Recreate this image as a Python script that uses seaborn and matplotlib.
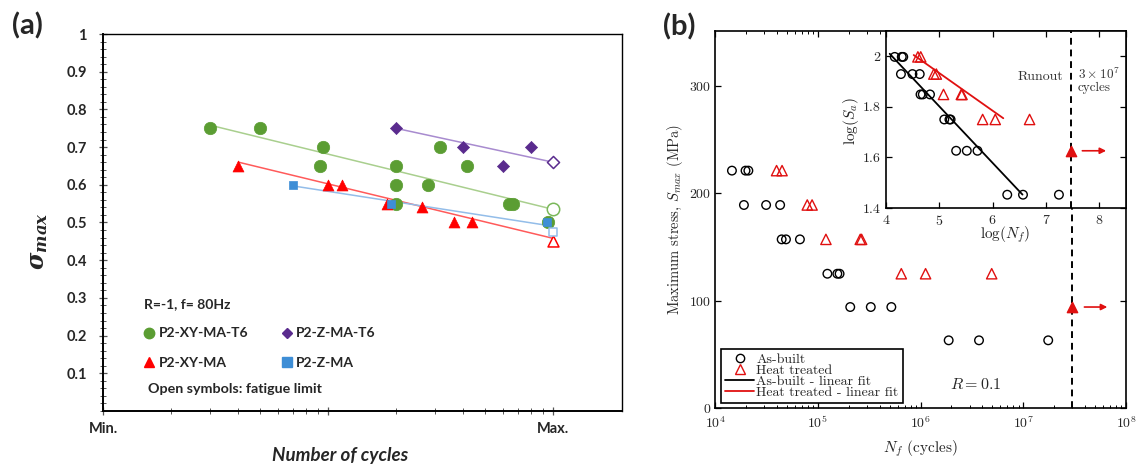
import numpy as np
import matplotlib
matplotlib.use("Agg")
import matplotlib.pyplot as plt
from matplotlib.lines import Line2D
from matplotlib.ticker import FixedLocator, FixedFormatter, NullFormatter, LogLocator
import seaborn as sns

# ---------------- (a) normalised S-N data ----------------
xy_t6_cycles = [3.0, 5.0, 9.5, 9.2, 20.0, 20.0, 27.7, 20.0, 31.5, 41.6, 63.5, 66.5, 95.0]
xy_t6_stress = [0.75, 0.75, 0.70, 0.65, 0.65, 0.60, 0.60, 0.55, 0.70, 0.65, 0.55, 0.55, 0.50]
z_t6_cycles = [20.0, 40.0, 60.0, 80.0]
z_t6_stress = [0.75, 0.70, 0.65, 0.70]
xy_ma_cycles = [4.0, 10.0, 11.5, 18.3, 26.2, 36.3, 43.6]
xy_ma_stress = [0.65, 0.60, 0.60, 0.55, 0.54, 0.50, 0.50]
z_ma_cycles = [7.0, 19.0, 94.0]
z_ma_stress = [0.60, 0.55, 0.50]

# fatigue limits (open symbols) at the maximum cycle count
limit_cycles = [100.0]
xy_t6_limit = [0.535]
z_t6_limit = [0.66]
xy_ma_limit = [0.452]
z_ma_limit = [0.475]

# trend lines (start, end)
xy_t6_trend_cycles = [3.0, 100.0]
xy_t6_trend_stress = [0.758, 0.535]
z_t6_trend_cycles = [20.0, 100.0]
z_t6_trend_stress = [0.75, 0.66]
xy_ma_trend_cycles = [4.0, 100.0]
xy_ma_trend_stress = [0.66, 0.458]
z_ma_trend_cycles = [7.0, 100.0]
z_ma_trend_stress = [0.597, 0.49]

# ---------------- (b) R = 0.1 S-N data ----------------
R_ratio = 0.1
asbuilt_cycles = [1.46e4, 1.98e4, 2.11e4, 1.91e4, 3.14e4, 4.3e4, 4.45e4, 4.9e4, 6.7e4,
                  1.24e5, 1.55e5, 1.63e5, 2.07e5, 3.28e5, 5.2e5, 1.88e6, 3.71e6, 1.75e7]
asbuilt_smax = [221, 221, 221, 189, 189, 189, 157, 157, 157,
                125, 125, 125, 94, 94, 94, 63, 63, 63]
heat_cycles = [3.97e4, 4.49e4, 7.9e4, 8.8e4, 1.2e5, 2.59e5, 2.67e5, 6.5e5, 1.12e6, 4.93e6]
heat_smax = [221, 221, 189, 189, 157, 157, 157, 125, 125, 125]
runout_cycles = [3.0e7]
runout_smax = [94]
runout_arrow_cycles = [3.7e7, 7.0e7]
runout_arrow_logN = [7.63, 8.18]

# linear fits in log-log space (start, end)
asbuilt_fit_logN = [4.07, 6.56]
asbuilt_fit_logS = [2.01, 1.453]
heat_fit_logN = [4.52, 6.2]
heat_fit_logS = [2.005, 1.755]

GREEN = "#5b9d33"
GREEN_LINE = "#a9cf8e"
PURPLE = "#5a2b8e"
PURPLE_LINE = "#a88bcf"
RED = "#ff0000"
RED_LINE = "#ff5a5a"
BLUE = "#3e8ed6"
BLUE_LINE = "#93bde9"
RED_B = "#e01010"

sns.set_theme(style="white")
plt.rcParams["font.family"] = ["Lato", "DejaVu Sans"]
plt.rcParams["mathtext.fontset"] = "cm"
plt.rcParams["axes.edgecolor"] = "black"
plt.rcParams["axes.formatter.use_mathtext"] = True

fig = plt.figure(figsize=(11.37, 4.69), dpi=100)
fig.patch.set_facecolor("white")
axa = fig.add_axes([0.0906, 0.1237, 0.4565, 0.8038])
axb = fig.add_axes([0.6289, 0.1301, 0.3614, 0.8038])
axi = fig.add_axes([0.7792, 0.5565, 0.2111, 0.3774])

# ======================= panel (a) =======================
axa.set_xscale("log")
trends = [
    (xy_t6_trend_cycles, xy_t6_trend_stress, GREEN_LINE),
    (z_t6_trend_cycles, z_t6_trend_stress, PURPLE_LINE),
    (xy_ma_trend_cycles, xy_ma_trend_stress, RED_LINE),
    (z_ma_trend_cycles, z_ma_trend_stress, BLUE_LINE),
]
for cx, cy, col in trends:
    sns.lineplot(x=cx, y=cy, color=col, linewidth=1.1, ax=axa, zorder=2)

series_a = [
    (xy_t6_cycles, xy_t6_stress, xy_t6_limit, GREEN, "o", 80, "#7ab85a"),
    (z_t6_cycles, z_t6_stress, z_t6_limit, PURPLE, "D", 38, PURPLE),
    (xy_ma_cycles, xy_ma_stress, xy_ma_limit, RED, "^", 62, RED),
    (z_ma_cycles, z_ma_stress, z_ma_limit, BLUE, "s", 40, BLUE_LINE),
]
for cx, cy, lim, col, mk, s, open_col in series_a:
    sns.scatterplot(x=cx, y=cy, marker=mk, s=s, color=col, edgecolor=col,
                    linewidth=0.5, ax=axa, zorder=3, legend=False)
    sns.scatterplot(x=limit_cycles, y=lim, marker=mk, s=s, facecolor="white",
                    edgecolor=open_col, linewidth=1.1, ax=axa, zorder=4, legend=False)

axa.set_xlim(1, 10 ** 2.307)
axa.set_ylim(0, 1)
axa.xaxis.set_major_locator(FixedLocator([1, 10, 100]))
axa.xaxis.set_major_formatter(FixedFormatter(["Min.", "", "Max."]))
minor_a = [m * d for d in (1, 10) for m in range(2, 10)]
axa.xaxis.set_minor_locator(FixedLocator(minor_a))
axa.xaxis.set_minor_formatter(NullFormatter())
ymaj = [round(0.1 * k, 1) for k in range(1, 11)]
axa.yaxis.set_major_locator(FixedLocator(ymaj))
axa.yaxis.set_major_formatter(FixedFormatter([f"{v:g}" for v in ymaj]))
axa.yaxis.set_minor_locator(FixedLocator([0.02 * k for k in range(0, 51)]))
axa.tick_params(which="both", direction="inout", color="#555555",
                bottom=True, left=True, top=False, right=False)
axa.tick_params(which="major", length=5.5, width=0.9)
axa.tick_params(which="minor", length=3.8, width=0.7)
axa.tick_params(axis="y", which="major", pad=9, labelsize=10.5)
axa.tick_params(axis="x", which="major", pad=5, labelsize=10.5)
for lab in axa.get_xticklabels() + axa.get_yticklabels():
    lab.set_fontweight("bold")
for side in ["left", "bottom"]:
    axa.spines[side].set_linewidth(1.4)
for side in ["top", "right"]:
    axa.spines[side].set_linewidth(1.0)

axa.set_xlabel("Number of cycles", fontsize=13.5, fontweight="bold", fontstyle="italic", va="center")
axa.xaxis.set_label_coords(0.457, -0.117)
axa.set_ylabel(r"$\mathbfit{\sigma}_{\mathbfit{max}}$", fontsize=17,
               math_fontfamily="dejavuserif", va="center")
axa.yaxis.set_label_coords(-0.123, 0.451)

handles_a = [
    Line2D([], [], ls="none", marker="o", ms=7.5, mfc=GREEN, mec=GREEN),
    Line2D([], [], ls="none", marker="^", ms=7, mfc=RED, mec=RED),
    Line2D([], [], ls="none", marker="D", ms=5.5, mfc=PURPLE, mec=PURPLE),
    Line2D([], [], ls="none", marker="s", ms=6.5, mfc=BLUE, mec=BLUE),
]
labels_a = ["P2-XY-MA-T6", "P2-XY-MA", "P2-Z-MA-T6", "P2-Z-MA"]
leg_a = axa.legend(handles_a, labels_a, ncol=2, loc="upper left", bbox_to_anchor=(0.066, 0.318),
                   frameon=False, title="R=-1, f= 80Hz", alignment="left",
                   prop={"weight": "bold", "size": 10},
                   title_fontproperties={"weight": "bold", "size": 10},
                   borderpad=0, handlelength=0.75, handletextpad=0.3,
                   labelspacing=1.25, columnspacing=2.4)
axa.text(0.087, 0.058, "Open symbols: fatigue limit", transform=axa.transAxes,
         fontsize=10.3, fontweight="bold", va="center", ha="left")

fig.text(27 / 1137, 1 - 26 / 469, "(a)", fontsize=21, fontweight="bold", ha="center", va="center")

# ======================= panel (b) =======================
axb.set_xscale("log")
sns.scatterplot(x=asbuilt_cycles, y=asbuilt_smax, marker="o", s=38, facecolor="none",
                edgecolor="black", linewidth=1.0, ax=axb, zorder=3, legend=False)
sns.scatterplot(x=heat_cycles, y=heat_smax, marker="^", s=55, facecolor="none",
                edgecolor=RED_B, linewidth=1.0, ax=axb, zorder=3, legend=False)
sns.scatterplot(x=runout_cycles, y=runout_smax, marker="^", s=55, color=RED_B,
                edgecolor=RED_B, linewidth=1.0, ax=axb, zorder=4, legend=False)
axb.axvline(runout_cycles[0], color="black", ls=(0, (3.5, 2.5)), lw=1.4, zorder=2)
axb.annotate("", xy=(runout_arrow_cycles[1], runout_smax[0]),
             xytext=(runout_arrow_cycles[0], runout_smax[0]),
             arrowprops=dict(arrowstyle="-|>", color=RED_B, lw=1.2, mutation_scale=9))

axb.set_xlim(1e4, 1e8)
axb.set_ylim(0, 351)
axb.set_yticks([0, 100, 200, 300])
axb.xaxis.set_major_locator(LogLocator(base=10, numticks=10))
axb.xaxis.set_minor_locator(LogLocator(base=10, subs=np.arange(2, 10), numticks=10))
axb.xaxis.set_minor_formatter(NullFormatter())
axb.tick_params(which="both", direction="in", top=True, right=True, bottom=True, left=True,
                color="black", labelfontfamily="cmr10", labelsize=10)
axb.tick_params(which="major", length=4, width=0.9)
axb.tick_params(which="minor", length=2.2, width=0.7)
axb.tick_params(axis="y", which="both", left=True, right=True, pad=3)
axb.tick_params(axis="y", which="minor", left=False, right=False)
axb.tick_params(axis="x", pad=5)
for sp in axb.spines.values():
    sp.set_linewidth(1.2)

axb.set_xlabel(r"$N_f$ (cycles)", fontsize=11, family="cmr10", va="center")
axb.xaxis.set_label_coords(0.499, -0.108)
axb.set_ylabel(r"Maximum stress, $S_{max}$ (MPa)", fontsize=10.5, family="cmr10", va="center")
axb.yaxis.set_label_coords(-0.097, 0.5)
axb.text(0.635, 0.062, r"$R = 0.1$", transform=axb.transAxes, fontsize=11.5, ha="center", va="center")

handles_b = [
    Line2D([], [], ls="none", marker="o", ms=6, mfc="none", mec="black", mew=1.0),
    Line2D([], [], ls="none", marker="^", ms=6.5, mfc="none", mec=RED_B, mew=1.0),
    Line2D([], [], color="black", lw=1.3),
    Line2D([], [], color=RED_B, lw=1.3),
]
labels_b = ["As-built", "Heat treated", "As-built - linear fit", "Heat treated - linear fit"]
leg_b = axb.legend(handles_b, labels_b, loc="lower left", bbox_to_anchor=(0.0146, 0.0133),
                   borderaxespad=0, frameon=True, fancybox=False, edgecolor="black",
                   prop={"family": "cmr10", "size": 10}, labelspacing=-0.12,
                   handlelength=2.1, handletextpad=0.15, borderpad=0.3)
leg_b.get_frame().set_linewidth(1.2)
leg_b.get_frame().set_alpha(1)

fig.text(679 / 1137, 1 - 27 / 469, "(b)", fontsize=21, fontweight="bold", ha="center", va="center")

# ======================= inset (log-log) =======================
asbuilt_logN = np.log10(asbuilt_cycles)
asbuilt_logS = np.log10(np.array(asbuilt_smax) * (1 - R_ratio) / 2)
heat_logN = np.log10(heat_cycles)
heat_logS = np.log10(np.array(heat_smax) * (1 - R_ratio) / 2)
runout_logN = np.log10(runout_cycles)
runout_logS = np.log10(np.array(runout_smax) * (1 - R_ratio) / 2)

axi.set_facecolor("white")
sns.lineplot(x=asbuilt_fit_logN, y=asbuilt_fit_logS, color="black", lw=1.3, ax=axi, zorder=2)
sns.lineplot(x=heat_fit_logN, y=heat_fit_logS, color=RED_B, lw=1.3, ax=axi, zorder=2)
sns.scatterplot(x=asbuilt_logN, y=asbuilt_logS, marker="o", s=38, facecolor="none",
                edgecolor="black", linewidth=1.0, ax=axi, zorder=3, legend=False)
sns.scatterplot(x=heat_logN, y=heat_logS, marker="^", s=55, facecolor="none",
                edgecolor=RED_B, linewidth=1.0, ax=axi, zorder=3, legend=False)
sns.scatterplot(x=runout_logN, y=runout_logS, marker="^", s=55, color=RED_B,
                edgecolor=RED_B, linewidth=1.0, ax=axi, zorder=4, legend=False)
axi.axvline(runout_logN[0], color="black", ls=(0, (3.5, 2.5)), lw=1.4, zorder=2)
axi.annotate("", xy=(runout_arrow_logN[1], runout_logS[0]),
             xytext=(runout_arrow_logN[0], runout_logS[0]),
             arrowprops=dict(arrowstyle="-|>", color=RED_B, lw=1.2, mutation_scale=9))

axi.set_xlim(4, 8.5)
axi.set_ylim(1.4, 2.1)
axi.set_xticks([4, 5, 6, 7, 8])
axi.set_yticks([1.4, 1.6, 1.8, 2.0])
axi.set_yticklabels(["1.4", "1.6", "1.8", "2"])
axi.tick_params(which="both", direction="in", top=True, right=True, bottom=True, left=True,
                length=4, width=0.9, color="black", labelfontfamily="cmr10", labelsize=10)
axi.tick_params(axis="x", pad=4)
axi.tick_params(axis="y", pad=4)
for sp in axi.spines.values():
    sp.set_linewidth(1.2)
axi.set_xlabel(r"log$(N_f)$", fontsize=11, family="cmr10", va="center")
axi.xaxis.set_label_coords(0.496, -0.153)
axi.set_ylabel(r"log$(S_a)$", fontsize=11, family="cmr10", va="center")
axi.yaxis.set_label_coords(-0.146, 0.49)
axi.text(7.32, 1.92, "Runout", fontsize=10, family="cmr10", color="#333333", ha="right", va="center")
axi.text(7.6, 1.905, "$3\\times10^7$\ncycles", fontsize=9.5, family="cmr10", color="#333333",
         ha="left", va="center", linespacing=1.0)

fig.savefig("out.png", dpi=100, facecolor="white")
